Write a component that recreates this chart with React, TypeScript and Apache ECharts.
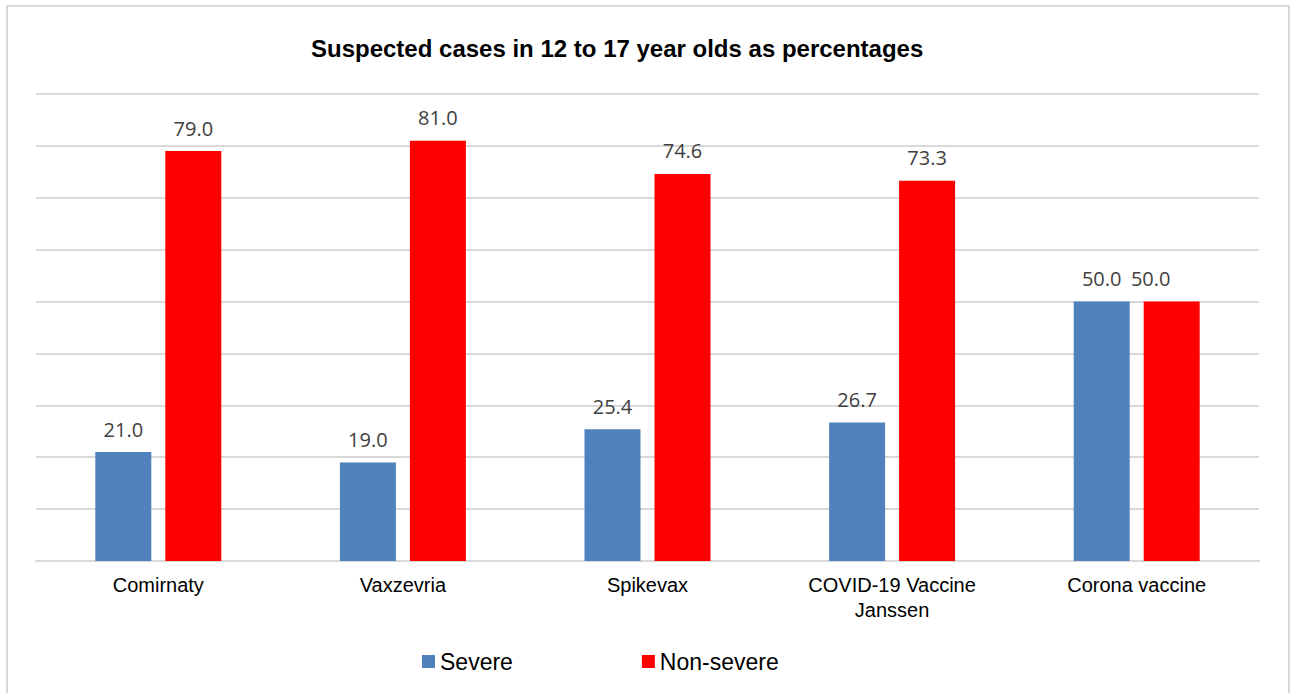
import React, { useEffect, useRef } from "react";
import * as echarts from "echarts";

const categories = ["Comirnaty", "Vaxzevria", "Spikevax", "COVID-19 Vaccine\nJanssen", "Corona vaccine"];
const severe = [21.0, 19.0, 25.4, 26.7, 50.0];
const nonSevere = [79.0, 81.0, 74.6, 73.3, 50.0];
const titleText = "Suspected cases in 12 to 17 year olds as percentages";

export default function App() {
  const ref = useRef<HTMLDivElement>(null);
  useEffect(() => {
    if (!ref.current) return;
    const chart = echarts.init(ref.current, null, { renderer: "svg" });
    const labelStyle = {
      show: true,
      position: "top" as const,
      distance: 13,
      color: "#404040",
      fontSize: 20,
      fontFamily: "Open Sans",
      formatter: (p: any) => Number(p.value).toFixed(1),
    };
    const nonSevereData = nonSevere.map((v, i) =>
      i === nonSevere.length - 1 ? { value: v, label: { offset: [-21, 0] } } : v
    );
    chart.setOption({
      animation: false,
      backgroundColor: "#ffffff",
      title: {
        text: titleText,
        left: 306,
        top: 31,
        textStyle: { fontSize: 24, fontWeight: "bold", color: "#000", fontFamily: "Liberation Sans, Arial, sans-serif" },
      },
      graphic: [
        {
          type: "rect",
          shape: { x: 7, y: 6, width: 1282, height: 720 },
          style: { fill: "none", stroke: "#d9d9d9", lineWidth: 2 },
          silent: true,
        },
      ],
      legend: {
        left: 417,
        top: 645,
        itemWidth: 13,
        itemHeight: 13,
        itemGap: 129,
        icon: "rect",
        textStyle: { fontSize: 23, color: "#000", fontFamily: "Liberation Sans, Arial, sans-serif" },
        data: ["Severe", "Non-severe"],
      },
      grid: { left: 36, right: 34, top: 94, bottom: 132 },
      xAxis: {
        type: "category",
        data: categories,
        axisLine: { lineStyle: { color: "#d9d9d9", width: 2 } },
        axisTick: { show: false },
        axisLabel: {
          color: "#000",
          fontSize: 20,
          lineHeight: 25,
          margin: 11,
          fontFamily: "Liberation Sans, Arial, sans-serif",
        },
      },
      yAxis: {
        type: "value",
        min: 0,
        max: 90,
        interval: 10,
        axisLabel: { show: false },
        axisLine: { show: false },
        axisTick: { show: false },
        splitLine: { lineStyle: { color: "#d9d9d9", width: 2 } },
      },
      series: [
        {
          name: "Severe",
          type: "bar",
          data: severe,
          barWidth: 56,
          barGap: "25%",
          itemStyle: { color: "#4f81bd" },
          label: labelStyle,
        },
        {
          name: "Non-severe",
          type: "bar",
          data: nonSevereData,
          barWidth: 56,
          barGap: "25%",
          itemStyle: { color: "#ff0000" },
          label: labelStyle,
        },
      ],
    });
    return () => chart.dispose();
  }, []);
  return (
    <div
      ref={ref}
      style={{ position: "fixed", left: 0, top: 0, width: 1293, height: 693 }}
    />
  );
}
